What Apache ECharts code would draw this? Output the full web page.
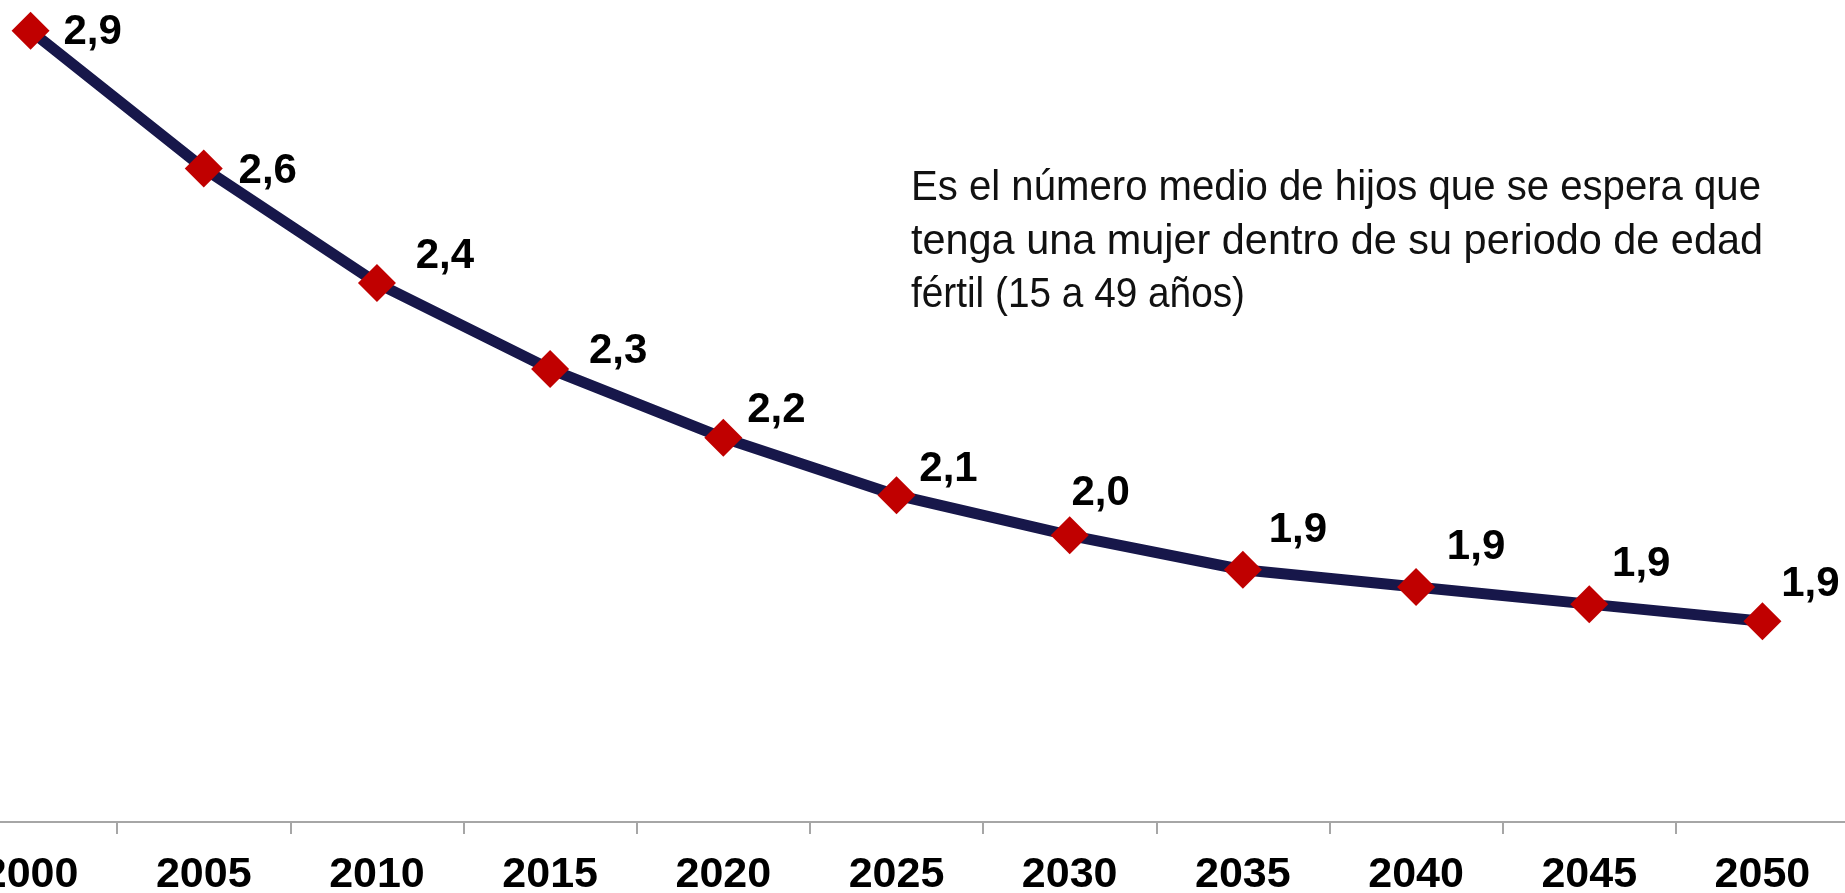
<!DOCTYPE html>
<html>
<head>
<meta charset="utf-8">
<title>Tasa global de fecundidad</title>
<script src="https://cdn.jsdelivr.net/npm/echarts@6/dist/echarts.min.js"></script>
<style>
  html, body { margin: 0; padding: 0; background: #fff; overflow: hidden; width: 1845px; height: 893px; position: relative; }
  /* the original plot runs past the left and top edges of the picture */
  #chart { position: absolute; left: -56px; top: -38px; width: 1905px; height: 931px; }
</style>
</head>
<body>
<div id="chart"></div>
<script>
const years = ['2000', '2005', '2010', '2015', '2020', '2025', '2030', '2035', '2040', '2045', '2050']
const fertility = [2.88, 2.64, 2.44, 2.29, 2.17, 2.07, 2.00, 1.94, 1.91, 1.88, 1.85]
// where each value label sits relative to its marker (hand-placed in the original)
const labelOffsets = [[62, 2], [64, 3], [68, -27], [68, -18], [53, -27], [52, -26], [31, -42], [55, -39], [60, -40], [52, -40], [48, -37]]
const noteLines = [
  'Es el número medio de hijos que se espera que',
  'tenga una mujer dentro de su periodo de edad',
  'fértil (15 a 49 años)'
]

const FONT = '"Liberation Sans", Arial, sans-serif'
const noteFont = '42px ' + FONT
const noteWidths = [850, 852, 334]
// container is shifted by (-56, -38)
const noteX = 911 + 56
const noteY = [188 + 38, 242 + 38, 295 + 38]

const measure = (text, font) => {
  const ctx = document.createElement('canvas').getContext('2d')
  ctx.font = font
  return ctx.measureText(text).width
}

const chart = echarts.init(document.getElementById('chart'))

const option = {
  animation: false,
  grid: { left: 0, right: 0, top: 0, bottom: 71, containLabel: false, outerBoundsMode: 'none' },
  xAxis: {
    type: 'category',
    data: years,
    boundaryGap: true,
    axisLine: { show: true, lineStyle: { color: '#a6a6a6', width: 2 } },
    axisTick: { show: true, length: 12, lineStyle: { color: '#a6a6a6', width: 2 } },
    axisLabel: {
      color: '#000',
      fontSize: 43,
      fontWeight: 'bold',
      fontFamily: FONT,
      margin: 32,
      interval: 0
    },
    splitLine: { show: false }
  },
  yAxis: {
    type: 'value',
    min: 1.5,
    max: 3.0,
    show: false,
    splitLine: { show: false }
  },
  series: [
    {
      type: 'line',
      data: fertility.map((v, i) => ({
        value: v,
        label: { offset: labelOffsets[i] }
      })),
      symbol: 'diamond',
      symbolSize: 38,
      lineStyle: { color: '#17174a', width: 11 },
      itemStyle: { color: '#c00000' },
      label: {
        show: true,
        position: 'inside',
        align: 'center',
        verticalAlign: 'middle',
        color: '#000',
        fontSize: 42,
        fontWeight: 'bold',
        fontFamily: FONT,
        formatter: p => p.value.toFixed(1).replace('.', ',')
      },
      emphasis: { disabled: true },
      z: 2
    }
  ],
  graphic: noteLines.map((t, i) => ({
    type: 'text',
    x: noteX,
    y: noteY[i],
    scaleX: noteWidths[i] / measure(t, noteFont),
    style: {
      text: t,
      font: noteFont,
      fill: '#111',
      textAlign: 'left',
      textVerticalAlign: 'middle'
    }
  }))
}

chart.setOption(option)
window.addEventListener('resize', () => chart.resize())
</script>
</body>
</html>
